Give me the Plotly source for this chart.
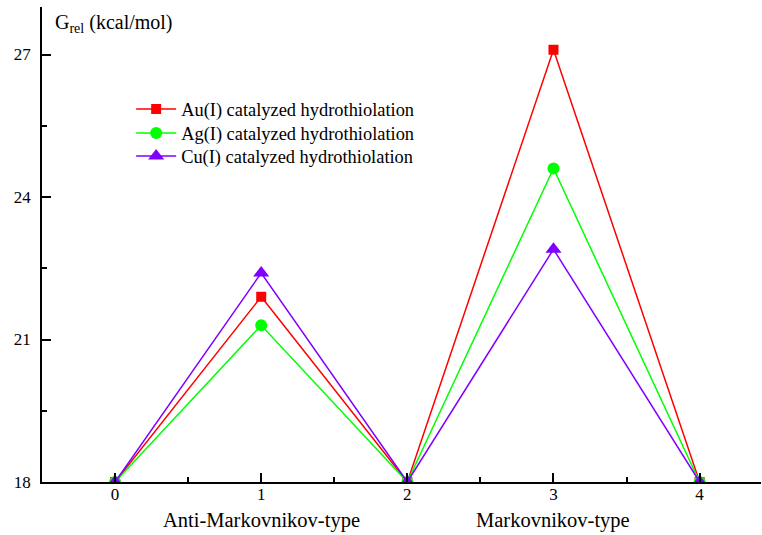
import plotly.graph_objects as go

steps = [0, 1, 2, 3, 4]
au_vals = [18.0, 21.9, 18.0, 27.1, 18.0]
ag_vals = [18.0, 21.3, 18.0, 24.6, 18.0]
cu_vals = [18.0, 22.4, 18.0, 22.9, 18.0]
series_names = ["Au(I) catalyzed hydrothiolation",
                "Ag(I) catalyzed hydrothiolation",
                "Cu(I) catalyzed hydrothiolation"]
colors = ["#ff0000", "#00ff00", "#8000ff"]
symbols = ["square", "circle", "triangle-up"]
group_labels = ["Anti-Markovnikov-type", "Markovnikov-type"]
group_pos = [1, 3]

FONT = "Liberation Serif"
legend_ids = ["legend", "legend2", "legend3"]
legend_y = [0.7853, 0.7347, 0.6863]

fig = go.Figure()
for name, vals, c, s, sz, lg in zip(series_names, [au_vals, ag_vals, cu_vals], colors, symbols,
                                    [10, 12, 14], legend_ids):
    fig.add_trace(go.Scatter(x=steps, y=vals, mode="lines+markers", name=name, legend=lg,
                             line=dict(color=c, width=1.5),
                             marker=dict(symbol=s, size=sz, color=c)))

for lab, p in zip(group_labels, group_pos):
    fig.add_annotation(x=p, y=-0.082, xref="x", yref="paper", text=lab, showarrow=False,
                       font=dict(family=FONT, size=20.5, color="#000"), yanchor="middle")

fig.add_annotation(x=0.015, y=0.995, xref="paper", yref="paper",
                   text="G<sub>rel</sub> (kcal/mol)",
                   showarrow=False, xanchor="left", yanchor="top",
                   font=dict(family=FONT, size=20, color="#000"))

legend_common = dict(x=0.124, xanchor="left", yanchor="middle", bgcolor="rgba(0,0,0,0)",
                     font=dict(family=FONT, size=18.4), itemwidth=40)

fig.update_layout(
    width=762, height=535,
    margin=dict(l=42, r=1, t=7, b=53),
    paper_bgcolor="white", plot_bgcolor="white",
    font=dict(family=FONT, size=17, color="#000"),
    showlegend=True,
    legend=dict(y=legend_y[0], **legend_common),
    legend2=dict(y=legend_y[1], **legend_common),
    legend3=dict(y=legend_y[2], **legend_common),
    xaxis=dict(range=[-0.5, 4.42], tickvals=steps, ticks="inside", ticklen=9, tickwidth=1.5,
               tickcolor="#000", showline=True, linecolor="#000", linewidth=1.5,
               showgrid=False, zeroline=False, ticklabelstandoff=-4,
               minor=dict(dtick=0.5, tick0=0, ticks="inside", ticklen=5, tickwidth=1.5, tickcolor="#000")),
    yaxis=dict(range=[18, 28], tickvals=[18, 21, 24, 27], ticks="inside", ticklen=9, tickwidth=1.5,
               tickcolor="#000", showline=True, linecolor="#000", linewidth=1.5,
               showgrid=False, zeroline=False, ticklabelstandoff=6,
               minor=dict(dtick=1.5, tick0=18, ticks="inside", ticklen=5, tickwidth=1.5, tickcolor="#000")),
)

fig.write_html("out.html", config={"displayModeBar": False},
               post_script="document.body.style.margin='0';document.body.style.overflow='hidden';")
